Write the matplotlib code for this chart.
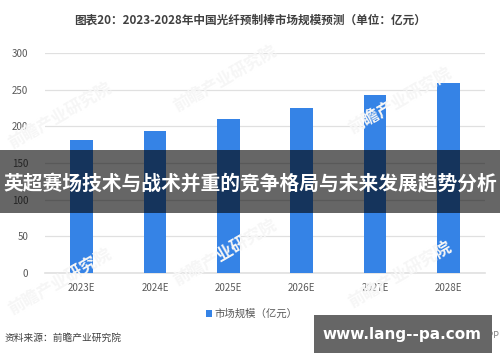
import matplotlib.pyplot as plt
import matplotlib.patches as mpatches

plt.rcParams['font.family'] = ['Noto Sans CJK SC', 'DejaVu Sans']

# data
years = ['2023E', '2024E', '2025E', '2026E', '2027E', '2028E']
market_size = [181, 194, 210, 225, 242, 259]
y_ticks = [0, 50, 100, 150, 200, 250, 300]

title = '图表20：2023-2028年中国光纤预制棒市场规模预测（单位：亿元）'
legend_label = '市场规模（亿元）'
source = '资料来源：前瞻产业研究院'
banner = '英超赛场技术与战术并重的竞争格局与未来发展趋势分析'
site = 'www.lang--pa.com'

bar_color = '#3583e6'

fig = plt.figure(figsize=(5, 3.62), dpi=100)
ax = fig.add_axes([0.09, 0.246, 0.88, 0.608])

x = range(len(years))
ax.bar(x, market_size, width=0.31, color=bar_color, zorder=3, label=legend_label)

ax.set_xlim(-0.5, len(years) - 0.5)
ax.set_ylim(0, 300)
ax.set_yticks(y_ticks)
ax.set_xticks(list(x))
ax.set_xticklabels(years)
ax.grid(axis='y', color='#e0e0e0', linewidth=0.9, zorder=0)
for s in ['top', 'right', 'left']:
    ax.spines[s].set_visible(False)
ax.spines['bottom'].set_color('#e0e0e0')
ax.spines['bottom'].set_linewidth(1.2)
ax.tick_params(axis='both', length=0, labelsize=7, colors='#595959')
ax.tick_params(axis='y', pad=12)
ax.tick_params(axis='x', pad=7)

# faint watermarks
for wx, wy in [(0.12, 0.68), (0.12, 0.22), (0.45, 0.78), (0.45, 0.3), (0.8, 0.72), (0.8, 0.24)]:
    fig.text(wx, wy, '前瞻产业研究院', fontsize=12, color='#f6f6f6', rotation=30,
             ha='center', va='center', fontweight='bold', zorder=0)

leg = ax.legend(loc='upper center', bbox_to_anchor=(0.47, -0.12), frameon=False,
                fontsize=7.5, handlelength=0.6, handleheight=0.6, handletextpad=0.2)
for t in leg.get_texts():
    t.set_color('#595959')

fig.text(0.5, 0.945, title, ha='center', va='center', fontsize=8.4, fontweight='bold', color='#404040')
fig.text(0.01, 0.066, source, ha='left', va='center', fontsize=7, color='#404040')
fig.text(0.999, 0.072, '经济学人APP', ha='right', va='center', fontsize=6.5, color='#808080')

# dark banner across the chart
fig.patches.append(mpatches.Rectangle((0, 1 - 213 / 362), 1, 63 / 362, transform=fig.transFigure,
                                      facecolor='black', alpha=0.6, zorder=10))
fig.text(0.5, 1 - 184 / 362, banner, ha='center', va='center', fontsize=14.2, fontweight='bold',
         color='white', zorder=11)

# site box bottom right
fig.patches.append(mpatches.Rectangle((314 / 500, 1 - 353 / 362), 178 / 500, 38 / 362,
                                      transform=fig.transFigure, facecolor='#666666', zorder=10))
fig.text(402 / 500, 1 - 335 / 362, site, ha='center', va='center', fontsize=11, fontweight='bold',
         color='white', family='DejaVu Sans', zorder=11)

fig.savefig('out.png', dpi=100)
